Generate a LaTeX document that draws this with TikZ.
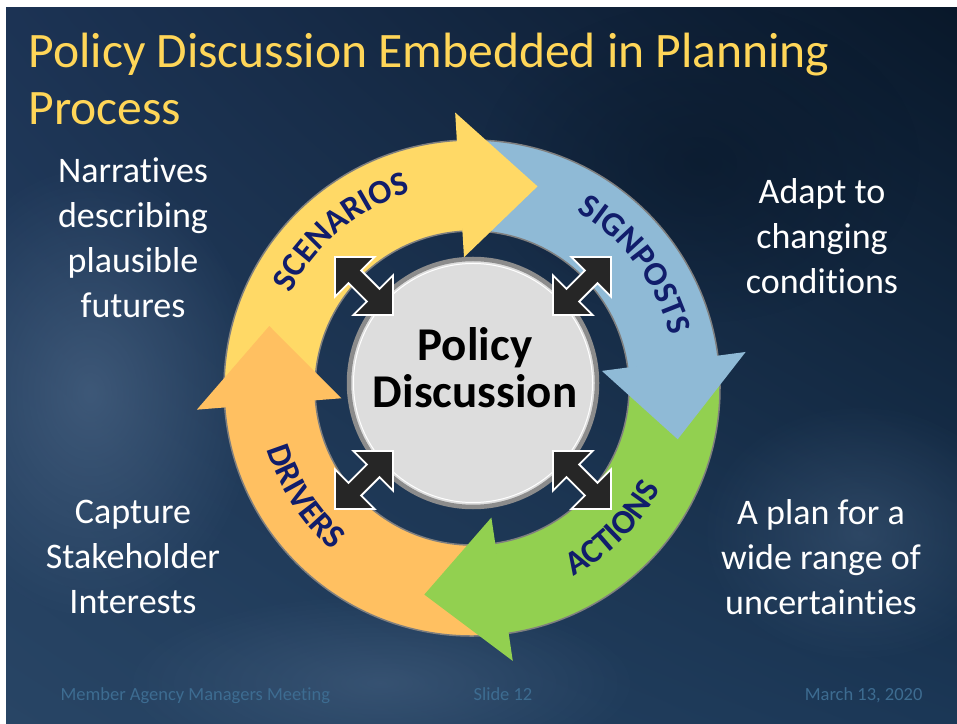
\documentclass[tikz,border=0pt]{standalone}
\usepackage{fontspec}
\setmainfont{Carlito}[Ligatures={NoCommon}]
\usetikzlibrary{decorations.text,fadings,shadings}

\definecolor{bgul}{HTML}{1C3354}
\definecolor{bgur}{HTML}{09182A}
\definecolor{bgll}{HTML}{284565}
\definecolor{bglr}{HTML}{1B3756}
\definecolor{cloud}{HTML}{557090}
\definecolor{scenyellow}{HTML}{FFD966}
\definecolor{signblue}{HTML}{8FBAD6}
\definecolor{actgreen}{HTML}{92D050}
\definecolor{drvorange}{HTML}{FFC061}
\definecolor{ringgray}{HTML}{7F7F7F}
\definecolor{labelnavy}{HTML}{111D6B}
\definecolor{discgray}{HTML}{DDDDDD}
\definecolor{discrim}{HTML}{8C8C8C}
\definecolor{arrowdark}{HTML}{262626}
\definecolor{titleyellow}{HTML}{FFD658}
\definecolor{footblue}{HTML}{3D6C91}

\newcommand{\labelfont}{\bfseries\fontsize{34}{34}\selectfont}
\tikzfading[name=softblob, inner color=transparent!0, outer color=transparent!100]

\begin{document}
\begin{tikzpicture}[x=1pt,y=1pt,
  sidetext/.style={text=white, font=\fontsize{36}{45}\selectfont, align=center},
  titletext/.style={text=titleyellow, font=\fontsize{49.6}{57}\selectfont, anchor=base west},
  footer/.style={text=footblue, font=\fontsize{18.5}{20}\selectfont, anchor=base west},
  ringline/.style={draw=ringgray, line width=1.5pt},
  dblarrow/.style={fill=arrowdark, draw=white, line width=1.8pt, line join=miter},
  cyclabel/.style={decorate, decoration={text along path, text align=center, text color=labelnavy}}]
\useasboundingbox (0,0) rectangle (957,723);
% page edge and slide background
\fill[white] (0,0) rectangle (957,723);
\shade[upper left=bgul, upper right=bgur, lower left=bgll, lower right=bglr] (6,0) rectangle (957,715);
\begin{scope}
  \clip (6,0) rectangle (957,715);
  \fill[cloud, path fading=softblob, opacity=.55] (90,330) ellipse (170 and 230);
  \fill[cloud, path fading=softblob, opacity=.4] (380,40) ellipse (260 and 90);
  \fill[cloud, path fading=softblob, opacity=.35] (860,190) ellipse (160 and 130);
  \fill[bgur, path fading=softblob, opacity=.6] (700,560) ellipse (220 and 160);
\end{scope}

% title
\node[titletext] (title) at (25,655) {Policy Discussion Embedded in Planning};
\node[titletext] (titlecont) at (25,598) {Process};

% four cycle arrows round the centre
\begin{scope}[shift={(472,335)}]
  \foreach \s/\e/\c in {180/93/scenyellow, 89/7/signblue, 3/-82/actgreen, 274/184/drvorange}
    \filldraw[fill=\c, ringline] (\s:248) arc[start angle=\s, end angle=\e, radius=248]
      -- (\e:157) arc[start angle=\e, end angle=\s, radius=157] -- cycle;
  % heads go over the next tail
  \foreach \e/\c in {93/scenyellow, 7/signblue, -82/actgreen, 184/drvorange}
    \fill[\c] ({\e+0.5}:131) -- ({\e+0.5}:276) -- ({\e-21}:212) -- cycle;
  % labels along the ring
  \path[cyclabel, decoration={text={|\labelfont|SCENARIOS}}] (175:205) arc[start angle=175, end angle=85, radius=205];
  \path[cyclabel, decoration={text={|\labelfont|SIGNPOSTS}}] (82:205) arc[start angle=82, end angle=-8, radius=205];
  \path[cyclabel, decoration={text={|\labelfont|DRIVERS}}] (168:214) arc[start angle=168, end angle=258, radius=214];
  \path[cyclabel, decoration={text={|\labelfont|ACTIONS}}] (270:214) arc[start angle=270, end angle=360, radius=214];
\end{scope}

% policy discussion disc
\node[circle, inner sep=0pt, minimum size=248, fill=discgray, draw=discrim, line width=4.5pt] (pdisc) at (473,340) {};
\draw[white, line width=1pt] (pdisc.center) circle[radius=119.5];
\node[font=\bfseries\fontsize{47}{47}\selectfont, align=center] (pdtext) at (475,355) {Policy\\Discussion};

% double arrows between disc and ring
\foreach \dx/\dy/\rot in {-109/97/-45, 109/97/45, -109/-97/45, 109/-97/-45}
  \draw[dblarrow, shift={(pdisc.center)}, shift={(\dx,\dy)}, rotate=\rot]
    (-41,0) -- (-13,28) -- (-13,9) -- (13,9) -- (13,28) -- (41,0)
    -- (13,-28) -- (13,-9) -- (-13,-9) -- (-13,-28) -- cycle;

% side notes
\node[sidetext] (scennote) at (133,485) {Narratives\\describing\\plausible\\futures};
\node[sidetext] (signnote) at (822,487) {Adapt to\\changing\\conditions};
\node[sidetext] (drvnote) at (133,166) {Capture\\Stakeholder\\Interests};
\node[sidetext] (actnote) at (821,166) {A plan for a\\wide range of\\uncertainties};

% footer
\node[footer] (meeting) at (57,23) {Member Agency Managers Meeting};
\node[footer] (slideno) at (470,23) {Slide 12};
\node[footer, anchor=base east] (date) at (926,23) {March 13, 2020};
\end{tikzpicture}
\end{document}
